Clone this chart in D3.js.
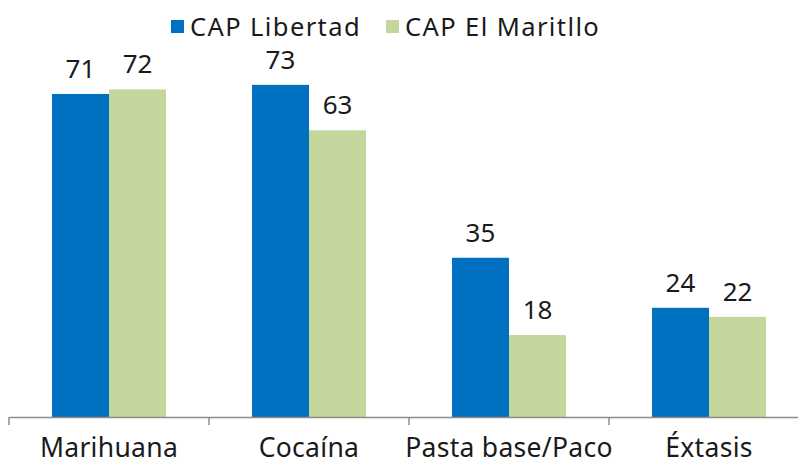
<!DOCTYPE html>
<html><head><meta charset="utf-8">
<script src="https://cdn.jsdelivr.net/npm/d3@7"></script>
<style>body{margin:0;background:#fff}svg{display:block}text{font-family:"Noto Sans",sans-serif;fill:#1a1a1a}</style>
</head><body><svg id="c" width="798" height="460"></svg>
<script>
const categories = ["Marihuana","Cocaína","Pasta base/Paco","Éxtasis"];
const seriesNames = ["CAP Libertad","CAP El Maritllo"];
const libertad = [71,73,35,24];
const maritllo = [72,63,18,22];
const colors = ["#0070C0","#C3D69B"];

const svg = d3.select("#c");
const x0 = 9, x1 = 809, yBase = 417;
const x = d3.scaleBand().domain(categories).range([x0, x1]).paddingInner(0).paddingOuter(0);
const xs = d3.scaleBand().domain(seriesNames).range([0, x.bandwidth()]).paddingInner(0).paddingOuter(0.754);
const y = d3.scaleLinear().domain([0, 80]).range([yBase, 53]);

const data = categories.map((c,i)=>({cat:c, vals:[libertad[i], maritllo[i]]}));

const g = svg.append("g");
data.forEach(d=>{
  d.vals.forEach((v,j)=>{
    const bx = x(d.cat) + xs(seriesNames[j]);
    g.append("rect").attr("x", bx).attr("y", y(v)).attr("width", xs.bandwidth()).attr("height", yBase - y(v)).attr("fill", colors[j]);
    g.append("text").attr("x", bx + xs.bandwidth()/2).attr("y", y(v) - 16).attr("text-anchor","middle").attr("font-size", 26).text(v);
  });
});

// axis
const axis = d3.axisBottom(x).tickSize(0).tickFormat(d=>d);
const ag = svg.append("g").attr("transform", `translate(0,${yBase})`).call(axis);
ag.select(".domain").attr("stroke", "#8c8c8c").attr("stroke-width", 1.5);
ag.selectAll(".tick text").attr("font-size", 26.5).attr("dy", 0).attr("y", 40).attr("fill","#1a1a1a")
  .style("font-family",'"Noto Sans",sans-serif').style("letter-spacing","0.3px");
// boundary ticks
const bounds = categories.map(c=>x(c));
ag.selectAll(".btick").data(bounds).enter().append("line").attr("x1", d=>d).attr("x2", d=>d).attr("y1",0).attr("y2",8).attr("stroke","#8c8c8c").attr("stroke-width",1.5);

// legend
const leg = svg.append("g");
const legX = [171, 386];
seriesNames.forEach((s,j)=>{
  leg.append("rect").attr("x", legX[j]).attr("y", 20).attr("width", 13).attr("height", 13).attr("fill", colors[j]);
  leg.append("text").attr("x", legX[j] + 19).attr("y", 36).attr("font-size", 25.5).style("letter-spacing","1.4px").text(s);
});
</script></body></html>
